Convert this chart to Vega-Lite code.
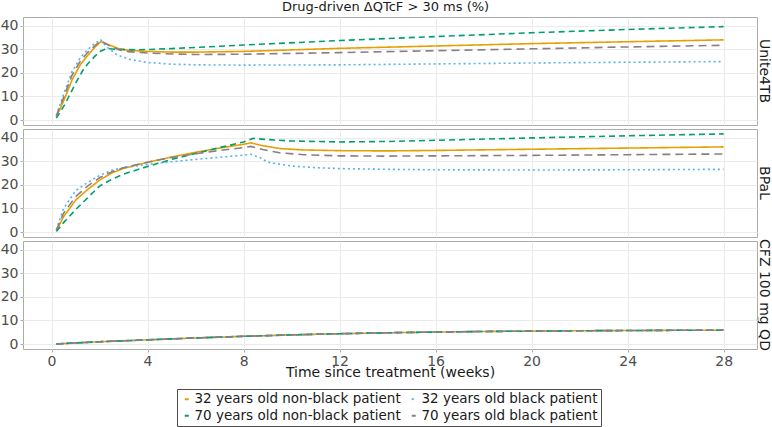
{
  "$schema": "https://vega.github.io/schema/vega-lite/v6.json",
  "padding": {"left": 0, "top": 0, "right": 0, "bottom": 0},
  "background": "white",
  "bounds": "flush",
  "title": {"text": "Drug-driven ΔQTcF > 30 ms (%)", "fontSize": 13, "fontWeight": "normal", "color": "#1A1A1A", "anchor": "middle", "offset": 3},
  "data": {"values": [
    {"panel":"Unite4TB","group":"32 years old non-black patient","week":0.2,"value":1.5},
    {"panel":"Unite4TB","group":"32 years old non-black patient","week":0.5,"value":8},
    {"panel":"Unite4TB","group":"32 years old non-black patient","week":0.85,"value":17},
    {"panel":"Unite4TB","group":"32 years old non-black patient","week":1.2,"value":23.5},
    {"panel":"Unite4TB","group":"32 years old non-black patient","week":1.5,"value":27.3},
    {"panel":"Unite4TB","group":"32 years old non-black patient","week":1.8,"value":30.8},
    {"panel":"Unite4TB","group":"32 years old non-black patient","week":2.05,"value":33.2},
    {"panel":"Unite4TB","group":"32 years old non-black patient","week":2.4,"value":31.8},
    {"panel":"Unite4TB","group":"32 years old non-black patient","week":2.8,"value":30.3},
    {"panel":"Unite4TB","group":"32 years old non-black patient","week":3.2,"value":29.6},
    {"panel":"Unite4TB","group":"32 years old non-black patient","week":4,"value":29.1},
    {"panel":"Unite4TB","group":"32 years old non-black patient","week":5,"value":28.8},
    {"panel":"Unite4TB","group":"32 years old non-black patient","week":6,"value":28.8},
    {"panel":"Unite4TB","group":"32 years old non-black patient","week":8,"value":29.1},
    {"panel":"Unite4TB","group":"32 years old non-black patient","week":12,"value":30.4},
    {"panel":"Unite4TB","group":"32 years old non-black patient","week":16,"value":31.4},
    {"panel":"Unite4TB","group":"32 years old non-black patient","week":20,"value":32.4},
    {"panel":"Unite4TB","group":"32 years old non-black patient","week":24,"value":33.2},
    {"panel":"Unite4TB","group":"32 years old non-black patient","week":28,"value":34},
    {"panel":"Unite4TB","group":"32 years old black patient","week":0.2,"value":2},
    {"panel":"Unite4TB","group":"32 years old black patient","week":0.5,"value":11},
    {"panel":"Unite4TB","group":"32 years old black patient","week":0.85,"value":20.5},
    {"panel":"Unite4TB","group":"32 years old black patient","week":1.2,"value":26.5},
    {"panel":"Unite4TB","group":"32 years old black patient","week":1.5,"value":29.8},
    {"panel":"Unite4TB","group":"32 years old black patient","week":1.8,"value":32.5},
    {"panel":"Unite4TB","group":"32 years old black patient","week":2.05,"value":34},
    {"panel":"Unite4TB","group":"32 years old black patient","week":2.3,"value":31},
    {"panel":"Unite4TB","group":"32 years old black patient","week":2.7,"value":27.8},
    {"panel":"Unite4TB","group":"32 years old black patient","week":3.2,"value":25.8},
    {"panel":"Unite4TB","group":"32 years old black patient","week":4,"value":24.4},
    {"panel":"Unite4TB","group":"32 years old black patient","week":5,"value":23.7},
    {"panel":"Unite4TB","group":"32 years old black patient","week":6,"value":23.4},
    {"panel":"Unite4TB","group":"32 years old black patient","week":8,"value":23.3},
    {"panel":"Unite4TB","group":"32 years old black patient","week":12,"value":23.4},
    {"panel":"Unite4TB","group":"32 years old black patient","week":16,"value":23.8},
    {"panel":"Unite4TB","group":"32 years old black patient","week":20,"value":24.2},
    {"panel":"Unite4TB","group":"32 years old black patient","week":24,"value":24.5},
    {"panel":"Unite4TB","group":"32 years old black patient","week":28,"value":24.8},
    {"panel":"Unite4TB","group":"70 years old non-black patient","week":0.2,"value":0.8},
    {"panel":"Unite4TB","group":"70 years old non-black patient","week":0.55,"value":6.6},
    {"panel":"Unite4TB","group":"70 years old non-black patient","week":0.97,"value":15},
    {"panel":"Unite4TB","group":"70 years old non-black patient","week":1.3,"value":21},
    {"panel":"Unite4TB","group":"70 years old non-black patient","week":1.52,"value":24},
    {"panel":"Unite4TB","group":"70 years old non-black patient","week":1.8,"value":27},
    {"panel":"Unite4TB","group":"70 years old non-black patient","week":2.05,"value":29.3},
    {"panel":"Unite4TB","group":"70 years old non-black patient","week":2.3,"value":30.3},
    {"panel":"Unite4TB","group":"70 years old non-black patient","week":2.8,"value":29.9},
    {"panel":"Unite4TB","group":"70 years old non-black patient","week":3.5,"value":29.8},
    {"panel":"Unite4TB","group":"70 years old non-black patient","week":4,"value":29.9},
    {"panel":"Unite4TB","group":"70 years old non-black patient","week":5,"value":30.3},
    {"panel":"Unite4TB","group":"70 years old non-black patient","week":6,"value":30.8},
    {"panel":"Unite4TB","group":"70 years old non-black patient","week":8,"value":31.8},
    {"panel":"Unite4TB","group":"70 years old non-black patient","week":12,"value":33.7},
    {"panel":"Unite4TB","group":"70 years old non-black patient","week":16,"value":35.4},
    {"panel":"Unite4TB","group":"70 years old non-black patient","week":20,"value":37},
    {"panel":"Unite4TB","group":"70 years old non-black patient","week":24,"value":38.4},
    {"panel":"Unite4TB","group":"70 years old non-black patient","week":28,"value":39.6},
    {"panel":"Unite4TB","group":"70 years old black patient","week":0.2,"value":1.8},
    {"panel":"Unite4TB","group":"70 years old black patient","week":0.5,"value":9.5},
    {"panel":"Unite4TB","group":"70 years old black patient","week":0.85,"value":19},
    {"panel":"Unite4TB","group":"70 years old black patient","week":1.2,"value":25},
    {"panel":"Unite4TB","group":"70 years old black patient","week":1.5,"value":28.6},
    {"panel":"Unite4TB","group":"70 years old black patient","week":1.8,"value":31.5},
    {"panel":"Unite4TB","group":"70 years old black patient","week":2.05,"value":33.6},
    {"panel":"Unite4TB","group":"70 years old black patient","week":2.4,"value":31.6},
    {"panel":"Unite4TB","group":"70 years old black patient","week":2.8,"value":29.8},
    {"panel":"Unite4TB","group":"70 years old black patient","week":3.2,"value":29},
    {"panel":"Unite4TB","group":"70 years old black patient","week":4,"value":28.4},
    {"panel":"Unite4TB","group":"70 years old black patient","week":5,"value":28},
    {"panel":"Unite4TB","group":"70 years old black patient","week":6,"value":27.8},
    {"panel":"Unite4TB","group":"70 years old black patient","week":8,"value":27.9},
    {"panel":"Unite4TB","group":"70 years old black patient","week":12,"value":28.6},
    {"panel":"Unite4TB","group":"70 years old black patient","week":16,"value":29.4},
    {"panel":"Unite4TB","group":"70 years old black patient","week":20,"value":30.2},
    {"panel":"Unite4TB","group":"70 years old black patient","week":24,"value":31},
    {"panel":"Unite4TB","group":"70 years old black patient","week":28,"value":31.7},

    {"panel":"BPaL","group":"32 years old non-black patient","week":0.2,"value":0.6},
    {"panel":"BPaL","group":"32 years old non-black patient","week":0.5,"value":6.5},
    {"panel":"BPaL","group":"32 years old non-black patient","week":1,"value":13.5},
    {"panel":"BPaL","group":"32 years old non-black patient","week":1.5,"value":18},
    {"panel":"BPaL","group":"32 years old non-black patient","week":2,"value":22},
    {"panel":"BPaL","group":"32 years old non-black patient","week":2.5,"value":25},
    {"panel":"BPaL","group":"32 years old non-black patient","week":3,"value":27},
    {"panel":"BPaL","group":"32 years old non-black patient","week":4,"value":29.6},
    {"panel":"BPaL","group":"32 years old non-black patient","week":5,"value":31.8},
    {"panel":"BPaL","group":"32 years old non-black patient","week":6,"value":33.8},
    {"panel":"BPaL","group":"32 years old non-black patient","week":7,"value":35.6},
    {"panel":"BPaL","group":"32 years old non-black patient","week":8,"value":37.2},
    {"panel":"BPaL","group":"32 years old non-black patient","week":8.3,"value":37.8},
    {"panel":"BPaL","group":"32 years old non-black patient","week":8.7,"value":36.8},
    {"panel":"BPaL","group":"32 years old non-black patient","week":9.5,"value":35.4},
    {"panel":"BPaL","group":"32 years old non-black patient","week":10.5,"value":34.8},
    {"panel":"BPaL","group":"32 years old non-black patient","week":12,"value":34.5},
    {"panel":"BPaL","group":"32 years old non-black patient","week":14,"value":34.4},
    {"panel":"BPaL","group":"32 years old non-black patient","week":16,"value":34.6},
    {"panel":"BPaL","group":"32 years old non-black patient","week":20,"value":35.1},
    {"panel":"BPaL","group":"32 years old non-black patient","week":24,"value":35.6},
    {"panel":"BPaL","group":"32 years old non-black patient","week":28,"value":36.1},
    {"panel":"BPaL","group":"32 years old black patient","week":0.2,"value":1},
    {"panel":"BPaL","group":"32 years old black patient","week":0.5,"value":10},
    {"panel":"BPaL","group":"32 years old black patient","week":1,"value":17.5},
    {"panel":"BPaL","group":"32 years old black patient","week":1.5,"value":21},
    {"panel":"BPaL","group":"32 years old black patient","week":2,"value":24},
    {"panel":"BPaL","group":"32 years old black patient","week":2.5,"value":26.2},
    {"panel":"BPaL","group":"32 years old black patient","week":3,"value":27.3},
    {"panel":"BPaL","group":"32 years old black patient","week":4,"value":28.7},
    {"panel":"BPaL","group":"32 years old black patient","week":5,"value":29.8},
    {"panel":"BPaL","group":"32 years old black patient","week":6,"value":30.8},
    {"panel":"BPaL","group":"32 years old black patient","week":7,"value":31.7},
    {"panel":"BPaL","group":"32 years old black patient","week":8,"value":32.6},
    {"panel":"BPaL","group":"32 years old black patient","week":8.3,"value":33},
    {"panel":"BPaL","group":"32 years old black patient","week":8.7,"value":31.5},
    {"panel":"BPaL","group":"32 years old black patient","week":9,"value":29.6},
    {"panel":"BPaL","group":"32 years old black patient","week":10,"value":28},
    {"panel":"BPaL","group":"32 years old black patient","week":11,"value":27.3},
    {"panel":"BPaL","group":"32 years old black patient","week":12,"value":26.9},
    {"panel":"BPaL","group":"32 years old black patient","week":14,"value":26.6},
    {"panel":"BPaL","group":"32 years old black patient","week":16,"value":26.4},
    {"panel":"BPaL","group":"32 years old black patient","week":20,"value":26.3},
    {"panel":"BPaL","group":"32 years old black patient","week":24,"value":26.4},
    {"panel":"BPaL","group":"32 years old black patient","week":28,"value":26.6},
    {"panel":"BPaL","group":"70 years old non-black patient","week":0.2,"value":0.3},
    {"panel":"BPaL","group":"70 years old non-black patient","week":0.5,"value":4},
    {"panel":"BPaL","group":"70 years old non-black patient","week":1,"value":9.5},
    {"panel":"BPaL","group":"70 years old non-black patient","week":1.5,"value":14.5},
    {"panel":"BPaL","group":"70 years old non-black patient","week":2,"value":19.5},
    {"panel":"BPaL","group":"70 years old non-black patient","week":2.5,"value":22.3},
    {"panel":"BPaL","group":"70 years old non-black patient","week":3,"value":24.6},
    {"panel":"BPaL","group":"70 years old non-black patient","week":4,"value":27.8},
    {"panel":"BPaL","group":"70 years old non-black patient","week":5,"value":30.8},
    {"panel":"BPaL","group":"70 years old non-black patient","week":6,"value":33.3},
    {"panel":"BPaL","group":"70 years old non-black patient","week":7,"value":35.8},
    {"panel":"BPaL","group":"70 years old non-black patient","week":8,"value":38.2},
    {"panel":"BPaL","group":"70 years old non-black patient","week":8.4,"value":39.7},
    {"panel":"BPaL","group":"70 years old non-black patient","week":9,"value":39.2},
    {"panel":"BPaL","group":"70 years old non-black patient","week":10,"value":38.6},
    {"panel":"BPaL","group":"70 years old non-black patient","week":12,"value":38.2},
    {"panel":"BPaL","group":"70 years old non-black patient","week":14,"value":38.4},
    {"panel":"BPaL","group":"70 years old non-black patient","week":16,"value":38.9},
    {"panel":"BPaL","group":"70 years old non-black patient","week":20,"value":39.9},
    {"panel":"BPaL","group":"70 years old non-black patient","week":24,"value":40.8},
    {"panel":"BPaL","group":"70 years old non-black patient","week":28,"value":41.6},
    {"panel":"BPaL","group":"70 years old black patient","week":0.2,"value":0.8},
    {"panel":"BPaL","group":"70 years old black patient","week":0.5,"value":8},
    {"panel":"BPaL","group":"70 years old black patient","week":1,"value":15},
    {"panel":"BPaL","group":"70 years old black patient","week":1.5,"value":19.5},
    {"panel":"BPaL","group":"70 years old black patient","week":2,"value":23},
    {"panel":"BPaL","group":"70 years old black patient","week":2.5,"value":25.5},
    {"panel":"BPaL","group":"70 years old black patient","week":3,"value":27.3},
    {"panel":"BPaL","group":"70 years old black patient","week":4,"value":29.6},
    {"panel":"BPaL","group":"70 years old black patient","week":5,"value":31.6},
    {"panel":"BPaL","group":"70 years old black patient","week":6,"value":33.2},
    {"panel":"BPaL","group":"70 years old black patient","week":7,"value":34.6},
    {"panel":"BPaL","group":"70 years old black patient","week":8,"value":35.8},
    {"panel":"BPaL","group":"70 years old black patient","week":8.3,"value":36.3},
    {"panel":"BPaL","group":"70 years old black patient","week":8.8,"value":35},
    {"panel":"BPaL","group":"70 years old black patient","week":9.5,"value":33.6},
    {"panel":"BPaL","group":"70 years old black patient","week":10.5,"value":32.8},
    {"panel":"BPaL","group":"70 years old black patient","week":12,"value":32.3},
    {"panel":"BPaL","group":"70 years old black patient","week":14,"value":32.2},
    {"panel":"BPaL","group":"70 years old black patient","week":16,"value":32.3},
    {"panel":"BPaL","group":"70 years old black patient","week":20,"value":32.5},
    {"panel":"BPaL","group":"70 years old black patient","week":24,"value":32.8},
    {"panel":"BPaL","group":"70 years old black patient","week":28,"value":33.1},

    {"panel":"CFZ 100 mg QD","group":"32 years old non-black patient","week":0.2,"value":0.05},
    {"panel":"CFZ 100 mg QD","group":"32 years old non-black patient","week":1,"value":0.5},
    {"panel":"CFZ 100 mg QD","group":"32 years old non-black patient","week":2,"value":1},
    {"panel":"CFZ 100 mg QD","group":"32 years old non-black patient","week":4,"value":1.8},
    {"panel":"CFZ 100 mg QD","group":"32 years old non-black patient","week":6,"value":2.6},
    {"panel":"CFZ 100 mg QD","group":"32 years old non-black patient","week":8,"value":3.3},
    {"panel":"CFZ 100 mg QD","group":"32 years old non-black patient","week":10,"value":3.9},
    {"panel":"CFZ 100 mg QD","group":"32 years old non-black patient","week":12,"value":4.4},
    {"panel":"CFZ 100 mg QD","group":"32 years old non-black patient","week":14,"value":4.8},
    {"panel":"CFZ 100 mg QD","group":"32 years old non-black patient","week":16,"value":5.1},
    {"panel":"CFZ 100 mg QD","group":"32 years old non-black patient","week":18,"value":5.35},
    {"panel":"CFZ 100 mg QD","group":"32 years old non-black patient","week":20,"value":5.5},
    {"panel":"CFZ 100 mg QD","group":"32 years old non-black patient","week":22,"value":5.65},
    {"panel":"CFZ 100 mg QD","group":"32 years old non-black patient","week":24,"value":5.75},
    {"panel":"CFZ 100 mg QD","group":"32 years old non-black patient","week":26,"value":5.85},
    {"panel":"CFZ 100 mg QD","group":"32 years old non-black patient","week":28,"value":5.9},
    {"panel":"CFZ 100 mg QD","group":"32 years old black patient","week":0.2,"value":0.05},
    {"panel":"CFZ 100 mg QD","group":"32 years old black patient","week":1,"value":0.5},
    {"panel":"CFZ 100 mg QD","group":"32 years old black patient","week":2,"value":1},
    {"panel":"CFZ 100 mg QD","group":"32 years old black patient","week":4,"value":1.8},
    {"panel":"CFZ 100 mg QD","group":"32 years old black patient","week":6,"value":2.6},
    {"panel":"CFZ 100 mg QD","group":"32 years old black patient","week":8,"value":3.3},
    {"panel":"CFZ 100 mg QD","group":"32 years old black patient","week":10,"value":3.9},
    {"panel":"CFZ 100 mg QD","group":"32 years old black patient","week":12,"value":4.4},
    {"panel":"CFZ 100 mg QD","group":"32 years old black patient","week":14,"value":4.8},
    {"panel":"CFZ 100 mg QD","group":"32 years old black patient","week":16,"value":5.1},
    {"panel":"CFZ 100 mg QD","group":"32 years old black patient","week":18,"value":5.35},
    {"panel":"CFZ 100 mg QD","group":"32 years old black patient","week":20,"value":5.5},
    {"panel":"CFZ 100 mg QD","group":"32 years old black patient","week":22,"value":5.65},
    {"panel":"CFZ 100 mg QD","group":"32 years old black patient","week":24,"value":5.75},
    {"panel":"CFZ 100 mg QD","group":"32 years old black patient","week":26,"value":5.85},
    {"panel":"CFZ 100 mg QD","group":"32 years old black patient","week":28,"value":5.9},
    {"panel":"CFZ 100 mg QD","group":"70 years old non-black patient","week":0.2,"value":0.05},
    {"panel":"CFZ 100 mg QD","group":"70 years old non-black patient","week":1,"value":0.5},
    {"panel":"CFZ 100 mg QD","group":"70 years old non-black patient","week":2,"value":1},
    {"panel":"CFZ 100 mg QD","group":"70 years old non-black patient","week":4,"value":1.8},
    {"panel":"CFZ 100 mg QD","group":"70 years old non-black patient","week":6,"value":2.6},
    {"panel":"CFZ 100 mg QD","group":"70 years old non-black patient","week":8,"value":3.3},
    {"panel":"CFZ 100 mg QD","group":"70 years old non-black patient","week":10,"value":3.9},
    {"panel":"CFZ 100 mg QD","group":"70 years old non-black patient","week":12,"value":4.4},
    {"panel":"CFZ 100 mg QD","group":"70 years old non-black patient","week":14,"value":4.8},
    {"panel":"CFZ 100 mg QD","group":"70 years old non-black patient","week":16,"value":5.1},
    {"panel":"CFZ 100 mg QD","group":"70 years old non-black patient","week":18,"value":5.35},
    {"panel":"CFZ 100 mg QD","group":"70 years old non-black patient","week":20,"value":5.5},
    {"panel":"CFZ 100 mg QD","group":"70 years old non-black patient","week":22,"value":5.65},
    {"panel":"CFZ 100 mg QD","group":"70 years old non-black patient","week":24,"value":5.75},
    {"panel":"CFZ 100 mg QD","group":"70 years old non-black patient","week":26,"value":5.85},
    {"panel":"CFZ 100 mg QD","group":"70 years old non-black patient","week":28,"value":5.9},
    {"panel":"CFZ 100 mg QD","group":"70 years old black patient","week":0.2,"value":0.05},
    {"panel":"CFZ 100 mg QD","group":"70 years old black patient","week":1,"value":0.5},
    {"panel":"CFZ 100 mg QD","group":"70 years old black patient","week":2,"value":1},
    {"panel":"CFZ 100 mg QD","group":"70 years old black patient","week":4,"value":1.8},
    {"panel":"CFZ 100 mg QD","group":"70 years old black patient","week":6,"value":2.6},
    {"panel":"CFZ 100 mg QD","group":"70 years old black patient","week":8,"value":3.3},
    {"panel":"CFZ 100 mg QD","group":"70 years old black patient","week":10,"value":3.9},
    {"panel":"CFZ 100 mg QD","group":"70 years old black patient","week":12,"value":4.4},
    {"panel":"CFZ 100 mg QD","group":"70 years old black patient","week":14,"value":4.8},
    {"panel":"CFZ 100 mg QD","group":"70 years old black patient","week":16,"value":5.1},
    {"panel":"CFZ 100 mg QD","group":"70 years old black patient","week":18,"value":5.35},
    {"panel":"CFZ 100 mg QD","group":"70 years old black patient","week":20,"value":5.5},
    {"panel":"CFZ 100 mg QD","group":"70 years old black patient","week":22,"value":5.65},
    {"panel":"CFZ 100 mg QD","group":"70 years old black patient","week":24,"value":5.75},
    {"panel":"CFZ 100 mg QD","group":"70 years old black patient","week":26,"value":5.85},
    {"panel":"CFZ 100 mg QD","group":"70 years old black patient","week":28,"value":5.9}
  ]},
  "facet": {
    "row": {
      "field": "panel",
      "type": "nominal",
      "sort": ["Unite4TB", "BPaL", "CFZ 100 mg QD"],
      "header": {"title": null, "labelOrient": "right", "labelAngle": 90, "labelFontSize": 14, "labelColor": "#1A1A1A", "labelPadding": 0}
    }
  },
  "spacing": 4,
  "spec": {
    "width": 734,
    "height": 108,
    "mark": {"type": "line", "strokeWidth": 1.6, "clip": true},
    "encoding": {
      "x": {
        "field": "week", "type": "quantitative",
        "scale": {"domain": [-1.19, 29.39], "nice": false, "zero": false},
        "axis": {"values": [0, 4, 8, 12, 16, 20, 24, 28], "title": "Time since treatment (weeks)"}
      },
      "y": {
        "field": "value", "type": "quantitative",
        "scale": {"domain": [-2.08, 43.68], "nice": false, "zero": false},
        "axis": {"values": [0, 10, 20, 30, 40], "title": null}
      },
      "color": {
        "field": "group", "type": "nominal",
        "scale": {
          "domain": ["32 years old non-black patient", "32 years old black patient", "70 years old non-black patient", "70 years old black patient"],
          "range": ["#E69F00", "#56B4E9", "#009E73", "#8B7E82"]
        },
        "legend": {"title": null, "orient": "none", "legendX": 154, "legendY": 372}
      },
      "strokeDash": {
        "field": "group", "type": "nominal",
        "scale": {
          "domain": ["32 years old non-black patient", "32 years old black patient", "70 years old non-black patient", "70 years old black patient"],
          "range": [[1, 0], [2, 3], [6, 4], [8, 5]]
        },
        "legend": {"title": null, "orient": "none", "legendX": 154, "legendY": 372}
      },
      "order": {"field": "week", "type": "quantitative"}
    }
  },
  "config": {
    "font": "DejaVu Sans",
    "view": {"stroke": "#ABABAB", "strokeWidth": 1},
    "axis": {
      "domain": false,
      "grid": true,
      "gridColor": "#EBEBEB",
      "gridWidth": 1,
      "tickColor": "#ABABAB",
      "tickSize": 3,
      "labelColor": "#4D4D4D",
      "labelFontSize": 14,
      "labelPadding": 2,
      "titleFontSize": 14,
      "titleFontWeight": "normal",
      "titleColor": "#1A1A1A",
      "titlePadding": -3
    },
    "legend": {
      "direction": "horizontal",
      "columns": 2,
      "symbolType": "stroke",
      "symbolSize": 16,
      "symbolStrokeWidth": 2,
      "labelFontSize": 13.5,
      "labelColor": "#1A1A1A",
      "labelLimit": 300,
      "labelOffset": 1,
      "columnPadding": 6,
      "rowPadding": 2,
      "padding": 3,
      "strokeColor": "#4D4D4D",
      "fillColor": "white"
    }
  }
}
